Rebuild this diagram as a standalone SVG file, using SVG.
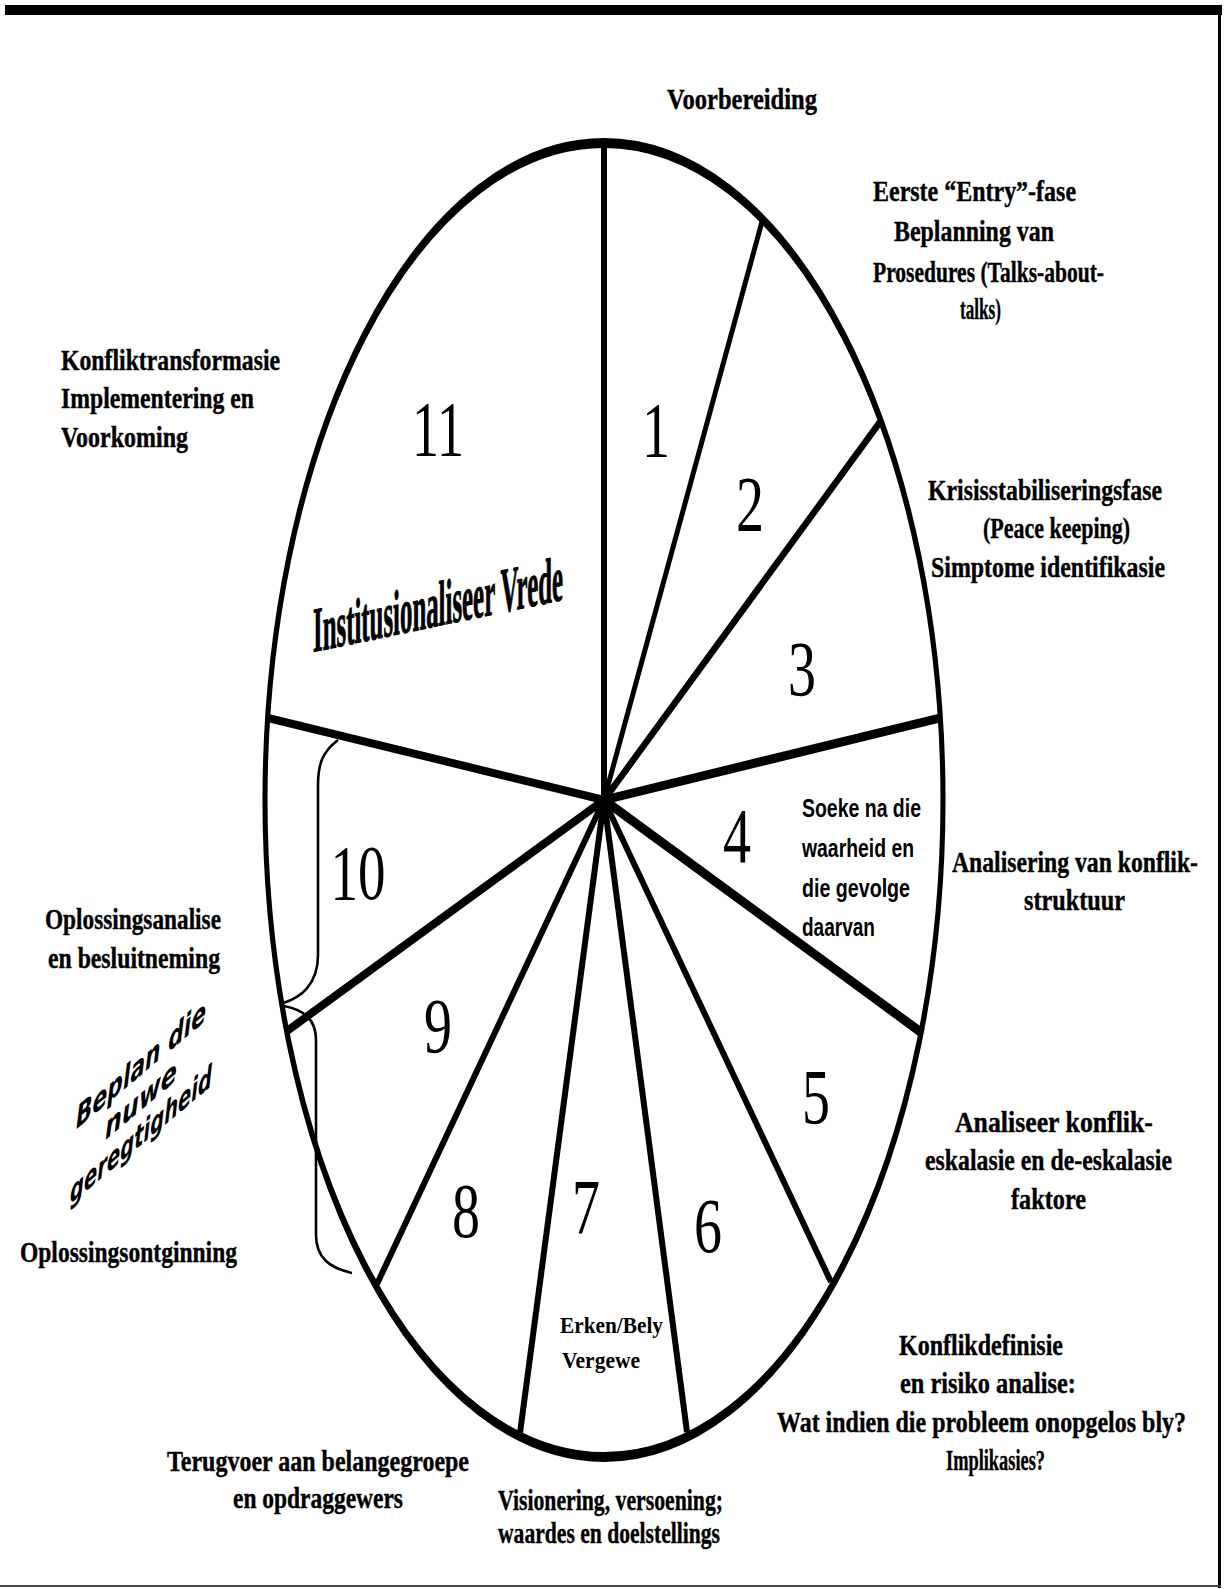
<svg xmlns="http://www.w3.org/2000/svg" width="1229" height="1589" viewBox="0 0 1229 1589">
<style>
.lbl{font-family:"Liberation Serif","Times New Roman",serif;font-weight:bold;font-size:30px;fill:#000;stroke:#000;stroke-width:0.4}
.num{font-family:"Liberation Serif","Times New Roman",serif;font-size:78px;fill:#000;text-anchor:middle}
.seg{font-family:"Liberation Sans",Arial,sans-serif;font-weight:bold;font-size:26px;fill:#000}
.segs{font-family:"Liberation Serif","Times New Roman",serif;font-weight:bold;font-size:24px;fill:#000}
.spoke{stroke:#000;fill:none;stroke-linecap:butt}
.brace{stroke:#000;fill:none;stroke-width:2.6}
</style>
<rect width="1229" height="1589" fill="#fff"/>
<g id="frame">
<rect x="5" y="5" width="1217" height="10" fill="#000"/>
<line x1="1219.5" y1="5" x2="1219.5" y2="1588" stroke="#000" stroke-width="3"/>
<line x1="0" y1="1586" x2="1221" y2="1586" stroke="#444" stroke-width="2"/>
</g>
<g id="connectors">
<line class="spoke" x1="604" y1="800" x2="604" y2="143" stroke-width="6"/>
<line class="spoke" x1="604" y1="800" x2="763" y2="218" stroke-width="5"/>
<line class="spoke" x1="604" y1="800" x2="880" y2="422" stroke-width="6.5"/>
<line class="spoke" x1="604" y1="800" x2="940" y2="718" stroke-width="9"/>
<line class="spoke" x1="604" y1="800" x2="922" y2="1033" stroke-width="9"/>
<line class="spoke" x1="604" y1="800" x2="831" y2="1282" stroke-width="6"/>
<line class="spoke" x1="604" y1="800" x2="687" y2="1432" stroke-width="6"/>
<line class="spoke" x1="604" y1="800" x2="520" y2="1433" stroke-width="6"/>
<line class="spoke" x1="604" y1="800" x2="377" y2="1284" stroke-width="6"/>
<line class="spoke" x1="604" y1="800" x2="287" y2="1031" stroke-width="8"/>
<line class="spoke" x1="604" y1="800" x2="268" y2="718" stroke-width="8"/>
<path class="brace" d="M338,740 C322,752 318,765 318,785 L318,955 C318,985 300,998 283,1003"/>
<path class="brace" d="M284,1006 C305,1010 316,1020 316,1040 L316,1235 C316,1258 330,1268 352,1273"/>
</g>
<g id="wheel">
<circle cx="0" cy="0" r="100" transform="translate(604 800) scale(3.39 6.57)" fill="none" stroke="#000" stroke-width="1.5"/>
</g>
<g id="numbers">
<text class="num" x="656" y="456" textLength="28" lengthAdjust="spacingAndGlyphs">1</text>
<text class="num" x="750" y="530" textLength="28" lengthAdjust="spacingAndGlyphs">2</text>
<text class="num" x="802" y="695" textLength="28" lengthAdjust="spacingAndGlyphs">3</text>
<text class="num" x="737" y="862" textLength="28" lengthAdjust="spacingAndGlyphs">4</text>
<text class="num" x="816" y="1123" textLength="28" lengthAdjust="spacingAndGlyphs">5</text>
<text class="num" x="708" y="1252" textLength="28" lengthAdjust="spacingAndGlyphs">6</text>
<text class="num" x="586" y="1233" textLength="28" lengthAdjust="spacingAndGlyphs">7</text>
<text class="num" x="466" y="1237" textLength="28" lengthAdjust="spacingAndGlyphs">8</text>
<text class="num" x="438" y="1052" textLength="28" lengthAdjust="spacingAndGlyphs">9</text>
<text class="num" x="358" y="899" textLength="55" lengthAdjust="spacingAndGlyphs">10</text>
<text class="num" x="438" y="455" textLength="52" lengthAdjust="spacingAndGlyphs">11</text>
</g>
<g id="seg4-text">
<text class="seg" x="802" y="817" textLength="119" lengthAdjust="spacingAndGlyphs">Soeke na die</text>
<text class="seg" x="802" y="857" textLength="112" lengthAdjust="spacingAndGlyphs">waarheid en</text>
<text class="seg" x="802" y="897" textLength="108" lengthAdjust="spacingAndGlyphs">die gevolge</text>
<text class="seg" x="802" y="936" textLength="73" lengthAdjust="spacingAndGlyphs">daarvan</text>
</g>
<g id="seg7-text">
<text class="segs" x="560" y="1333" textLength="103" lengthAdjust="spacingAndGlyphs">Erken/Bely</text>
<text class="segs" x="562" y="1368" textLength="78" lengthAdjust="spacingAndGlyphs">Vergewe</text>
</g>
<g id="seg11-text" transform="translate(313 652) skewY(-11.8)">
<text x="0" y="0" font-family="Liberation Serif, Times New Roman, serif" font-weight="bold" font-size="64" stroke="#000" stroke-width="1" textLength="250" lengthAdjust="spacingAndGlyphs">Institusionaliseer Vrede</text>
</g>
<g id="beplan" transform="translate(141 1075) skewY(-40)" font-family="DejaVu Sans, sans-serif" font-weight="bold" font-style="italic" font-size="31" text-anchor="middle">
<text x="0" y="0" textLength="130" lengthAdjust="spacingAndGlyphs">Beplan die</text>
<text x="0" y="35" textLength="72" lengthAdjust="spacingAndGlyphs">nuwe</text>
<text x="0" y="70" textLength="142" lengthAdjust="spacingAndGlyphs">geregtigheid</text>
</g>
<g id="label-1"><text class="lbl" transform="translate(667 109) scale(0.78 1)" textLength="192.3" lengthAdjust="spacingAndGlyphs">Voorbereiding</text></g>
<g id="label-2">
<text class="lbl" transform="translate(873 201) scale(0.78 1)" textLength="260.3" lengthAdjust="spacingAndGlyphs">Eerste “Entry”-fase</text>
<text class="lbl" transform="translate(894 241) scale(0.78 1)" textLength="205.1" lengthAdjust="spacingAndGlyphs">Beplanning van</text>
<text class="lbl" transform="translate(873 282) scale(0.78 1)" textLength="296.2" lengthAdjust="spacingAndGlyphs">Prosedures (Talks-about-</text>
<text class="lbl" transform="translate(960 319) scale(0.78 1)" textLength="52.6" lengthAdjust="spacingAndGlyphs">talks)</text>
</g>
<g id="label-3">
<text class="lbl" transform="translate(928 500) scale(0.78 1)" textLength="300" lengthAdjust="spacingAndGlyphs">Krisisstabiliseringsfase</text>
<text class="lbl" transform="translate(983 538) scale(0.78 1)" textLength="188.5" lengthAdjust="spacingAndGlyphs">(Peace keeping)</text>
<text class="lbl" transform="translate(931 577) scale(0.78 1)" textLength="300" lengthAdjust="spacingAndGlyphs">Simptome identifikasie</text>
</g>
<g id="label-4">
<text class="lbl" transform="translate(952 872) scale(0.78 1)" textLength="315.4" lengthAdjust="spacingAndGlyphs">Analisering van konflik-</text>
<text class="lbl" transform="translate(1024 910) scale(0.78 1)" textLength="129.5" lengthAdjust="spacingAndGlyphs">struktuur</text>
</g>
<g id="label-5">
<text class="lbl" transform="translate(955 1132) scale(0.78 1)" textLength="253.8" lengthAdjust="spacingAndGlyphs">Analiseer konflik-</text>
<text class="lbl" transform="translate(925 1170) scale(0.78 1)" textLength="316.7" lengthAdjust="spacingAndGlyphs">eskalasie en de-eskalasie</text>
<text class="lbl" transform="translate(1011 1209) scale(0.78 1)" textLength="96.2" lengthAdjust="spacingAndGlyphs">faktore</text>
</g>
<g id="label-6">
<text class="lbl" transform="translate(899 1355) scale(0.78 1)" textLength="210.3" lengthAdjust="spacingAndGlyphs">Konflikdefinisie</text>
<text class="lbl" transform="translate(900 1393) scale(0.78 1)" textLength="225.6" lengthAdjust="spacingAndGlyphs">en risiko analise:</text>
<text class="lbl" transform="translate(777 1432) scale(0.78 1)" textLength="524.4" lengthAdjust="spacingAndGlyphs">Wat indien die probleem onopgelos bly?</text>
<text class="lbl" transform="translate(946 1470) scale(0.78 1)" textLength="126.9" lengthAdjust="spacingAndGlyphs">Implikasies?</text>
</g>
<g id="label-7">
<text class="lbl" transform="translate(498 1510) scale(0.78 1)" textLength="288.5" lengthAdjust="spacingAndGlyphs">Visionering, versoening;</text>
<text class="lbl" transform="translate(498 1543) scale(0.78 1)" textLength="284.6" lengthAdjust="spacingAndGlyphs">waardes en doelstellings</text>
</g>
<g id="label-8">
<text class="lbl" transform="translate(167 1471) scale(0.78 1)" textLength="387.2" lengthAdjust="spacingAndGlyphs">Terugvoer aan belangegroepe</text>
<text class="lbl" transform="translate(233 1508) scale(0.78 1)" textLength="217.9" lengthAdjust="spacingAndGlyphs">en opdraggewers</text>
</g>
<g id="label-9"><text class="lbl" transform="translate(20 1262) scale(0.78 1)" textLength="278.2" lengthAdjust="spacingAndGlyphs">Oplossingsontginning</text></g>
<g id="label-10">
<text class="lbl" transform="translate(45 929) scale(0.78 1)" textLength="225.6" lengthAdjust="spacingAndGlyphs">Oplossingsanalise</text>
<text class="lbl" transform="translate(48 968) scale(0.78 1)" textLength="220.5" lengthAdjust="spacingAndGlyphs">en besluitneming</text>
</g>
<g id="label-11">
<text class="lbl" transform="translate(61 370) scale(0.78 1)" textLength="280.8" lengthAdjust="spacingAndGlyphs">Konfliktransformasie</text>
<text class="lbl" transform="translate(61 408) scale(0.78 1)" textLength="247.4" lengthAdjust="spacingAndGlyphs">Implementering en</text>
<text class="lbl" transform="translate(61 447) scale(0.78 1)" textLength="162.8" lengthAdjust="spacingAndGlyphs">Voorkoming</text>
</g>
</svg>
